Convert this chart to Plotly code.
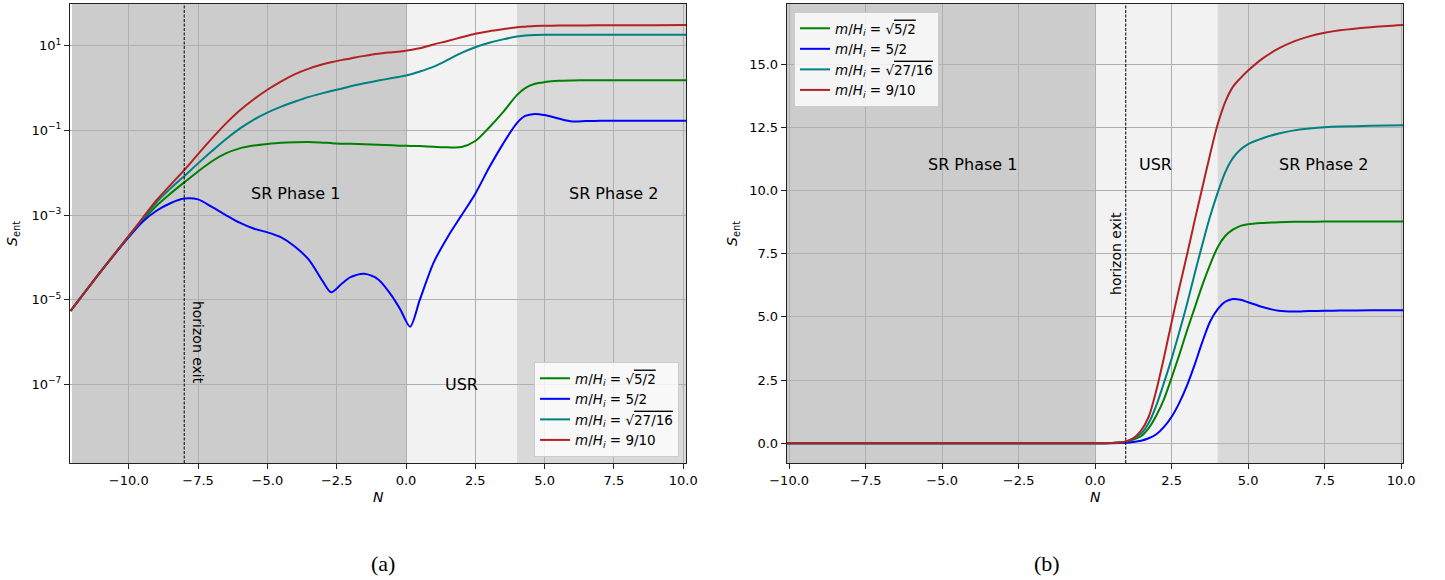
import plotly.graph_objects as go

# ---------------- data: panel (a), log scale ----------------
N_a = [-12.1, -11, -10, -9.5, -9, -8.5, -8, -7.5, -7, -6.5, -6, -5.5, -5, -4.5, -4,
       -3.5, -3, -2.7, -2.3, -2, -1.5, -1, -0.5, -0.2, 0.15, 0.5, 1, 1.5, 2, 2.5,
       3, 3.5, 4, 4.3, 4.65, 5, 5.5, 6, 6.5, 7, 8, 9, 10.1]

S_a_sqrt52 = [5.4e-06, 4.7e-05, 3.1e-04, 7.4e-04, 1.66e-03, 3.2e-03, 5.9e-03, 1.07e-02,
              1.86e-02, 2.85e-02, 3.76e-02, 4.37e-02, 4.79e-02, 5.13e-02, 5.27e-02,
              5.31e-02, 5.13e-02, 5.0e-02, 4.85e-02, 4.8e-02, 4.7e-02, 4.55e-02,
              4.45e-02, 4.35e-02, 4.3e-02, 4.25e-02, 4.1e-02, 3.98e-02, 4.03e-02,
              5.6e-02, 1.17e-01, 2.7e-01, 6.8e-01, 1.0, 1.26, 1.38, 1.48, 1.51,
              1.52, 1.52, 1.52, 1.52, 1.52]

S_a_52 = [5.4e-06, 4.7e-05, 3.0e-04, 6.9e-04, 1.26e-03, 1.9e-03, 2.45e-03, 2.34e-03,
          1.55e-03, 1.0e-03, 6.6e-04, 4.8e-04, 3.9e-04, 2.95e-04, 1.78e-04,
          8.7e-05, 2.7e-05, 1.5e-05, 2.45e-05, 3.4e-05, 4.1e-05, 3.0e-05,
          1.2e-05, 5.8e-06, 2.3e-06, 1.0e-05, 7.6e-05, 3.0e-04, 9.8e-04,
          3.2e-03, 1.32e-02, 4.8e-02, 1.48e-01, 2.19e-01, 2.45e-01, 2.3e-01,
          1.9e-01, 1.62e-01, 1.66e-01, 1.68e-01, 1.69e-01, 1.69e-01, 1.69e-01]

S_a_sqrt2716 = [5.4e-06, 4.7e-05, 3.2e-04, 8.1e-04, 2.0e-03, 4.2e-03, 8.3e-03, 1.66e-02,
                3.24e-02, 6.17e-02, 1.096e-01, 1.78e-01, 2.63e-01, 3.63e-01, 4.79e-01,
                6.17e-01, 7.59e-01, 8.51e-01, 9.77e-01, 1.096, 1.29, 1.50, 1.72, 1.86,
                2.09, 2.45, 3.2, 4.6, 6.76, 9.2, 11.7, 14.1, 16.4, 17.4, 18.0, 18.2,
                18.2, 18.2, 18.2, 18.2, 18.2, 18.2, 18.2]

S_a_910 = [5.4e-06, 4.7e-05, 3.2e-04, 8.5e-04, 2.24e-03, 5.1e-03, 1.15e-02, 2.75e-02,
           6.46e-02, 1.445e-01, 2.95e-01, 5.37e-01, 9.12e-01, 1.445, 2.14, 2.88, 3.63,
           4.07, 4.62, 5.01, 5.75, 6.46, 7.0, 7.33, 7.94, 8.7, 10.7, 12.9, 15.8,
           19.1, 21.9, 24.5, 27.2, 28.2, 29.2, 29.5, 29.9, 30.2, 30.2, 30.3,
           30.5, 30.6, 30.8]

# ---------------- data: panel (b), linear scale ----------------
N_b = [-10.08, -5, 0, 0.5, 1, 1.25, 1.5, 1.75, 2, 2.25, 2.5, 2.75, 3, 3.25, 3.5,
       3.75, 4, 4.25, 4.5, 4.75, 5, 5.5, 6, 6.5, 7, 7.5, 8, 9, 10.07]

S_b_sqrt52 = [0, 0, 0, 0.01, 0.05, 0.15, 0.28, 0.6, 1.1, 1.75, 2.6, 3.5, 4.45, 5.35,
              6.25, 7.05, 7.75, 8.2, 8.45, 8.6, 8.67, 8.72, 8.75, 8.76, 8.76, 8.77,
              8.77, 8.77, 8.77]

S_b_52 = [0, 0, 0, 0.005, 0.02, 0.05, 0.1, 0.2, 0.36, 0.65, 1.05, 1.6, 2.28, 3.1,
          4.0, 4.8, 5.3, 5.6, 5.71, 5.68, 5.58, 5.38, 5.24, 5.21, 5.23, 5.24,
          5.25, 5.26, 5.26]

S_b_sqrt2716 = [0, 0, 0, 0.01, 0.06, 0.2, 0.38, 0.8, 1.5, 2.4, 3.35, 4.4, 5.5, 6.7,
                7.85, 8.95, 9.9, 10.72, 11.28, 11.62, 11.84, 12.08, 12.26, 12.38,
                12.45, 12.5, 12.53, 12.56, 12.58]

S_b_910 = [0, 0, 0, 0.01, 0.07, 0.2, 0.5, 1.05, 2.1, 3.4, 4.8, 6.15, 7.45, 8.8,
           10.1, 11.4, 12.6, 13.5, 14.1, 14.45, 14.75, 15.25, 15.62, 15.9, 16.1,
           16.24, 16.34, 16.46, 16.55]

labels = [
    "<i>m</i>/<i>H<sub>i</sub></i> = √<span style='text-decoration:overline'>5/2</span>",
    "<i>m</i>/<i>H<sub>i</sub></i> = 5/2",
    "<i>m</i>/<i>H<sub>i</sub></i> = √<span style='text-decoration:overline'>27/16</span>",
    "<i>m</i>/<i>H<sub>i</sub></i> = 9/10",
]
colors = ["#008000", "#0000ff", "#008080", "#b22222"]

x_ticks = [-10, -7.5, -5, -2.5, 0, 2.5, 5, 7.5, 10]
x_ticktext = ["−10.0", "−7.5", "−5.0", "−2.5", "0.0", "2.5", "5.0", "7.5", "10.0"]
ya_ticks = [1e-7, 1e-5, 1e-3, 1e-1, 1e1]
ya_ticktext = ["10<sup>−7</sup>", "10<sup>−5</sup>", "10<sup>−3</sup>",
               "10<sup>−1</sup>", "10<sup>1</sup>"]
yb_ticks = [0, 2.5, 5, 7.5, 10, 12.5, 15]
yb_ticktext = ["0.0", "2.5", "5.0", "7.5", "10.0", "12.5", "15.0"]

# phase boundaries and horizon exit
usr_start, usr_end = 0.0, 4.0
exit_a, exit_b = -8.0, 1.0

FONT = "DejaVu Sans"
W, H = 1445, 580

fig = go.Figure()

series_a = [S_a_sqrt52, S_a_52, S_a_sqrt2716, S_a_910]
series_b = [S_b_sqrt52, S_b_52, S_b_sqrt2716, S_b_910]
for lab, col, ya in zip(labels, colors, series_a):
    fig.add_trace(go.Scatter(x=N_a, y=ya, mode="lines", name=lab,
                             line=dict(color=col, width=2, shape="spline", smoothing=0.8),
                             xaxis="x", yaxis="y", legend="legend"))
for lab, col, yb in zip(labels, colors, series_b):
    fig.add_trace(go.Scatter(x=N_b, y=yb, mode="lines", name=lab,
                             line=dict(color=col, width=2, shape="spline", smoothing=0.8),
                             xaxis="x2", yaxis="y2", legend="legend2"))

xr_a = [-12.12, 10.1]
xr_b = [-10.08, 10.07]

shapes = []
for xr, xref, yref, start in [(xr_a, "x", "y domain", -12.05), (xr_b, "x2", "y2 domain", xr_b[0])]:
    for x0, x1, fc in [(start, usr_start, "#cccccc"), (usr_start, usr_end, "#f2f2f2"),
                       (usr_end, xr[1], "#d9d9d9")]:
        shapes.append(dict(type="rect", xref=xref, yref=yref, x0=x0, x1=x1, y0=0, y1=1,
                           fillcolor=fc, line=dict(width=0), layer="below"))
for xv, xref, yref in [(exit_a, "x", "y domain"), (exit_b, "x2", "y2 domain")]:
    shapes.append(dict(type="line", xref=xref, yref=yref, x0=xv, x1=xv, y0=0, y1=1,
                       line=dict(color="black", width=1, dash="3px,1.5px"), layer="above"))


def label(text, x, y, xref, yref, size=16, angle=0, family=FONT):
    return dict(text=text, x=x, y=y, xref=xref, yref=yref, showarrow=False,
                xanchor="center", yanchor="middle", textangle=angle,
                font=dict(family=family, size=size, color="black"))


annotations = [
    label("SR Phase 1", -4.0, 0.588, "x", "y domain"),
    label("SR Phase 2", 7.5, 0.588, "x", "y domain"),
    label("USR", 2.0, 0.172, "x", "y domain"),
    label("horizon exit", -7.48, 0.2625, "x", "y domain", size=14, angle=90),
    label("SR Phase 1", -4.02, 0.651, "x2", "y2 domain"),
    label("USR", 1.98, 0.651, "x2", "y2 domain"),
    label("SR Phase 2", 7.47, 0.651, "x2", "y2 domain"),
    label("horizon exit", 0.68, 0.4575, "x2", "y2 domain", size=14, angle=-90),
    # axis titles
    label("<i>N</i>", 378 / W, 1 - 497 / H, "paper", "paper", size=14),
    label("<i>N</i>", 1095 / W, 1 - 497 / H, "paper", "paper", size=14),
    label("<i>S</i><sub>ent</sub>", 13 / W, 1 - 234 / H, "paper", "paper", size=14, angle=-90),
    label("<i>S</i><sub>ent</sub>", 733 / W, 1 - 234 / H, "paper", "paper", size=14, angle=-90),
    # panel captions
    label("(a)", 383 / W, 1 - 563 / H, "paper", "paper", size=22, family="Liberation Serif"),
    label("(b)", 1047 / W, 1 - 563 / H, "paper", "paper", size=22, family="Liberation Serif"),
]

axis_common = dict(showline=True, mirror=True, linecolor="#222222", linewidth=1,
                   ticks="outside", ticklen=5, tickcolor="#222222", tickwidth=1,
                   showgrid=True, gridcolor="#b0b0b0", gridwidth=1, zeroline=False,
                   automargin=False,
                   tickfont=dict(family=FONT, size=13, color="black"))

y_top = 1 - 4 / H
y_bot = 1 - 463 / H

legend_common = dict(font=dict(family=FONT, size=13.5, color="black"),
                     bgcolor="rgba(255,255,255,0.8)", bordercolor="#cccccc", borderwidth=1,
                     itemwidth=30, tracegroupgap=0)

fig.update_layout(
    width=W, height=H, autosize=False,
    margin=dict(l=0, r=0, t=0, b=0, autoexpand=False),
    paper_bgcolor="white", plot_bgcolor="rgba(0,0,0,0)",
    font=dict(family=FONT, color="black"),
    xaxis=dict(domain=[70 / W, 686 / W], range=xr_a, anchor="y",
               tickvals=x_ticks, ticktext=x_ticktext, **axis_common),
    yaxis=dict(domain=[y_bot, y_top], type="log", range=[-8.858, 1.985], anchor="x",
               tickvals=ya_ticks, ticktext=ya_ticktext, **axis_common),
    xaxis2=dict(domain=[786.7 / W, 1403.3 / W], range=xr_b, anchor="y2",
                tickvals=x_ticks, ticktext=x_ticktext, **axis_common),
    yaxis2=dict(domain=[y_bot, y_top], range=[-0.78, 17.38], anchor="x2",
                tickvals=yb_ticks, ticktext=yb_ticktext, **axis_common),
    legend=dict(x=679 / W, y=1 - 457 / H, xanchor="right", yanchor="bottom", **legend_common),
    legend2=dict(x=794 / W, y=1 - 12 / H, xanchor="left", yanchor="top", **legend_common),
    shapes=shapes,
    annotations=annotations,
)

fig.write_html("out.html")
